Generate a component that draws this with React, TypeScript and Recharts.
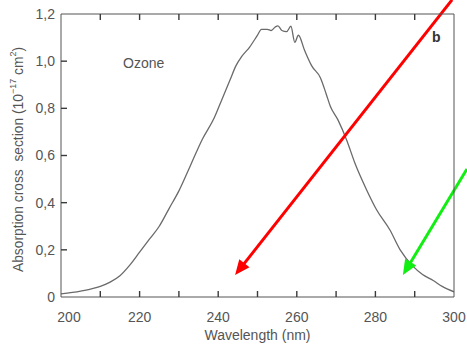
import React from 'react';
import { LineChart, Line, XAxis, YAxis, ReferenceLine } from 'recharts';

// ozone absorption cross section
const wavelength = [
  200, 205, 210, 212.5, 215, 217.5, 220, 222.5, 225, 227.5, 230, 233, 236, 239, 241, 243,
  244.5, 246, 248, 250, 251, 252.5, 253.5, 254.5, 255.2, 256.2, 257.4, 258.5, 259.5, 260.4,
  262, 263.8, 266, 267.5, 268.5, 270.5, 272.7, 274.8, 277.8, 280.3, 283.7, 286.3, 289.6,
  292, 294.7, 297, 300,
];
const crossSection = [
  0.013, 0.025, 0.045, 0.063, 0.09, 0.135, 0.19, 0.245, 0.3, 0.375, 0.45, 0.56, 0.67, 0.76,
  0.84, 0.92, 0.98, 1.02, 1.06, 1.11, 1.135, 1.135, 1.13, 1.145, 1.15, 1.13, 1.125, 1.148,
  1.08, 1.11, 1.045, 0.98, 0.93, 0.86, 0.81, 0.75, 0.665, 0.567, 0.453, 0.37, 0.284, 0.2,
  0.13, 0.095, 0.07, 0.045, 0.022,
];

const xTicks = [200, 210, 220, 230, 240, 250, 260, 270, 280, 290, 300];
const yTicks = [0, 0.2, 0.4, 0.6, 0.8, 1.0, 1.2];

// annotation arrows (start, tip) in data units
const redArrow = [{ x: 299.5, y: 1.26 }, { x: 244.3, y: 0.093 }];
const greenArrow = [{ x: 303.3, y: 0.543 }, { x: 287, y: 0.093 }];

const data = wavelength.map((w, i) => ({ wl: w, sigma: crossSection[i] }));

const ink = '#555';
const tickInk = '#3a3a3a';
const font = '"Liberation Sans", Arial, sans-serif';
const TICK = 6;

const fmtY = (v: number) => (v === 0 ? '0' : v.toFixed(1).replace('.', ','));

// inward tick marks are drawn by the tick renderers themselves
const BottomTick = (props: any) => {
  const { x, y, payload } = props;
  const v = payload.value;
  const axisY = y - 15;
  return (
    <g>
      {v !== 200 && v !== 300 && (
        <line x1={x} x2={x} y1={axisY} y2={axisY - TICK} stroke={tickInk} strokeWidth={1.4} />
      )}
      {v % 20 === 0 && (
        <text x={x + (v === 200 ? 8 : 0)} y={y} dy="0.71em" textAnchor="middle" fill={ink} fontSize={14}>
          {v}
        </text>
      )}
    </g>
  );
};

const TopTick = (props: any) => {
  const { x, y, payload } = props;
  if (payload.value === 200 || payload.value === 300) return null;
  return <line x1={x} x2={x} y1={y} y2={y + TICK} stroke={tickInk} strokeWidth={1.4} />;
};

const LeftTick = (props: any) => {
  const { x, y, payload } = props;
  const axisX = x + 6;
  const v = payload.value;
  return (
    <g>
      {v !== 0 && v !== 1.2 && (
        <line x1={axisX} x2={axisX + TICK} y1={y} y2={y} stroke={tickInk} strokeWidth={1.4} />
      )}
      <text x={x} y={y} dy="0.355em" textAnchor="end" fill={ink} fontSize={14}>
        {fmtY(v)}
      </text>
    </g>
  );
};

const RightTick = (props: any) => {
  const { x, y, payload } = props;
  const v = payload.value;
  if (v === 0 || v === 1.2) return null;
  return <line x1={x} x2={x - TICK} y1={y} y2={y} stroke={tickInk} strokeWidth={1.4} />;
};

const arrowShape = (color: string) => (props: any) => {
  const { x1, y1, x2, y2 } = props;
  const ang = Math.atan2(y2 - y1, x2 - x1);
  const len = 15;
  const half = 6.5;
  const bx = x2 - len * Math.cos(ang);
  const by = y2 - len * Math.sin(ang);
  const px = -Math.sin(ang) * half;
  const py = Math.cos(ang) * half;
  return (
    <g>
      <line x1={x1} y1={y1} x2={bx + 2 * Math.cos(ang)} y2={by + 2 * Math.sin(ang)} stroke={color} strokeWidth={3} />
      <polygon points={`${x2},${y2} ${bx + px},${by + py} ${bx - px},${by - py}`} fill={color} />
    </g>
  );
};

const YTitle = (props: any) => {
  const vb = props.viewBox || { x: 0, y: 14, width: 61, height: 283 };
  const cx = 18;
  const cy = vb.y + vb.height / 2 + 4;
  return (
    <text
      x={cx}
      y={cy}
      transform={`rotate(-90 ${cx} ${cy})`}
      textAnchor="middle"
      dominantBaseline="central"
      fill={ink}
      fontSize={13.8}
      style={{ whiteSpace: 'pre' }}
    >
      {'Absorption cross  section (10'}
      <tspan dy={-5} fontSize={9}>−17</tspan>
      <tspan dy={5}> cm</tspan>
      <tspan dy={-5} fontSize={9}>2</tspan>
      <tspan dy={5}>)</tspan>
    </text>
  );
};

const XTitle = (props: any) => {
  const vb = props.viewBox || { x: 61, y: 297, width: 393, height: 51 };
  return (
    <text x={vb.x + vb.width / 2} y={340} textAnchor="middle" fill={ink} fontSize={14}>
      Wavelength (nm)
    </text>
  );
};

export default function App() {
  return (
    <div style={{ position: 'absolute', left: 0, top: 0, width: 467, height: 348, background: '#fff' }}>
      <LineChart
        width={467}
        height={348}
        data={data}
        margin={{ top: 13, right: 12, bottom: 0, left: 0 }}
        style={{ fontFamily: font }}
      >
        <XAxis
          dataKey="wl"
          type="number"
          domain={[200, 300]}
          ticks={xTicks}
          interval={0}
          allowDataOverflow
          height={51}
          stroke={ink}
          tickLine={false}
          tickSize={0}
          tickMargin={15}
          tick={<BottomTick />}
          label={{ content: <XTitle /> }}
        />
        <XAxis
          xAxisId="top"
          dataKey="wl"
          type="number"
          orientation="top"
          domain={[200, 300]}
          ticks={xTicks}
          interval={0}
          height={1}
          stroke={ink}
          tickLine={false}
          tickSize={0}
          tickMargin={0}
          tick={<TopTick />}
        />
        <YAxis
          type="number"
          domain={[0, 1.2]}
          ticks={yTicks}
          interval={0}
          allowDataOverflow
          width={61}
          stroke={ink}
          tickLine={false}
          tickSize={0}
          tickMargin={6}
          tick={<LeftTick />}
          label={{ content: <YTitle /> }}
        />
        <YAxis
          yAxisId="right"
          type="number"
          orientation="right"
          domain={[0, 1.2]}
          ticks={yTicks}
          interval={0}
          width={1}
          stroke={ink}
          tickLine={false}
          tickSize={0}
          tickMargin={0}
          tick={<RightTick />}
        />
        <Line
          type="monotone"
          dataKey="sigma"
          stroke="#6a6a6a"
          strokeWidth={1.3}
          dot={false}
          isAnimationActive={false}
        />
        <ReferenceLine
          segment={redArrow}
          ifOverflow="visible"
          stroke="#ff0000"
          shape={arrowShape('#ff0000')}
        />
        <ReferenceLine
          segment={greenArrow}
          ifOverflow="visible"
          stroke="#11ee11"
          shape={arrowShape('#11ee11')}
        />
        <text x={123} y={68} fill={ink} fontSize={14} fontFamily={font}>
          Ozone
        </text>
        <text x={432} y={42} fill="#333" fontSize={14} fontWeight="bold" fontFamily={font}>
          b
        </text>
      </LineChart>
    </div>
  );
}
